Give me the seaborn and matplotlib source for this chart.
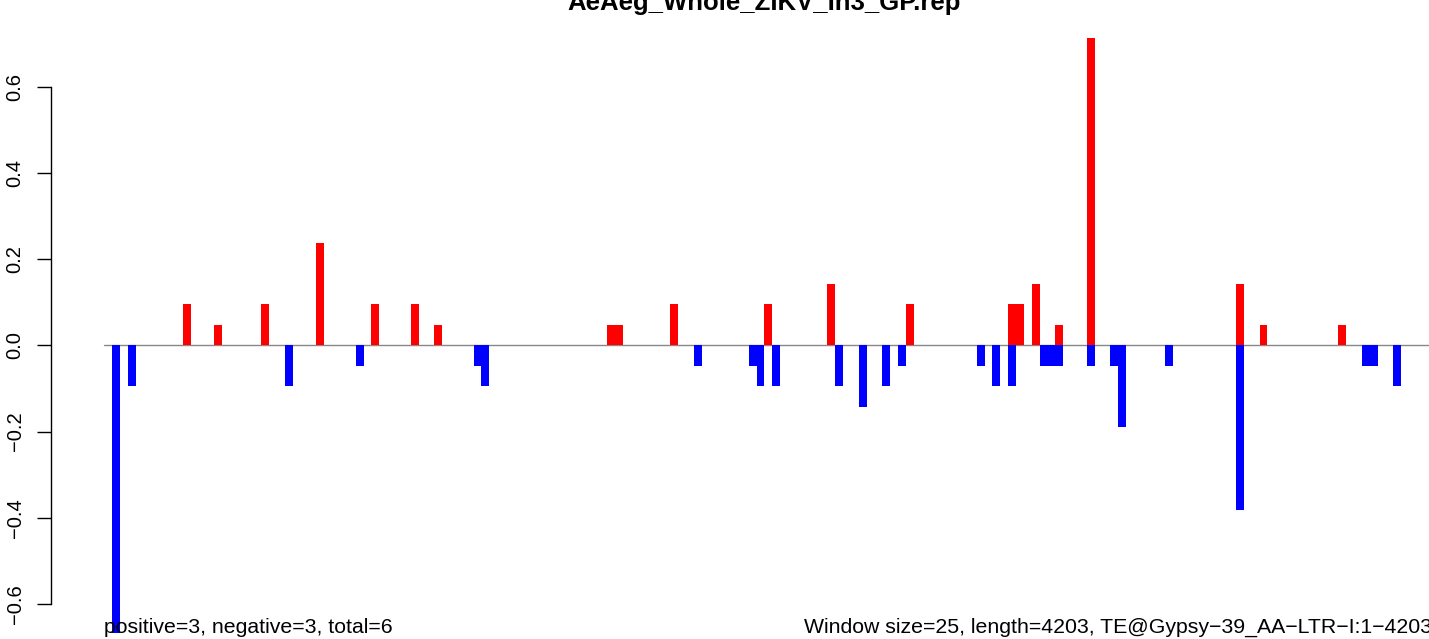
import numpy as np
import pandas as pd
import matplotlib
matplotlib.use("Agg")
import matplotlib.pyplot as plt
import seaborn as sns

title = "AeAeg_Whole_ZIKV_In3_GP.rep"
left_note = "positive=3, negative=3, total=6"
right_note = "Window size=25, length=4203, TE@Gypsy\u221239_AA\u2212LTR\u2212I:1\u22124203"

window = 25
seq_len = 4203
n_bins = int(np.ceil(seq_len / window))  # 169 windows

# window index -> score (red = positive strand, blue = negative strand)
pos_bins = [9, 13, 19, 26, 33, 38, 41, 63, 64, 71, 83, 91, 101, 114, 115,
            117, 120, 124, 143, 146, 156]
pos_vals = [0.095, 0.048, 0.095, 0.238, 0.095, 0.095, 0.048, 0.048, 0.048,
            0.095, 0.095, 0.143, 0.095, 0.095, 0.095, 0.143, 0.048, 0.714,
            0.143, 0.048, 0.048]
neg_bins = [0, 2, 22, 31, 46, 47, 74, 81, 82, 84, 92, 95, 98, 100, 110, 112,
            114, 118, 119, 120, 124, 127, 128, 134, 143, 159, 160, 163]
neg_vals = [-0.667, -0.095, -0.095, -0.048, -0.048, -0.095, -0.048, -0.048,
            -0.095, -0.095, -0.095, -0.143, -0.095, -0.048, -0.048, -0.095,
            -0.095, -0.048, -0.048, -0.048, -0.048, -0.048, -0.190, -0.048,
            -0.381, -0.048, -0.048, -0.095]
y_ticks = [-0.6, -0.4, -0.2, 0.0, 0.2, 0.4, 0.6]
y_ticklabels = ["\u22120.6", "\u22120.4", "\u22120.2", "0.0", "0.2", "0.4", "0.6"]

df = pd.DataFrame({"bin": np.arange(n_bins), "pos": 0.0, "neg": 0.0})
df.loc[pos_bins, "pos"] = pos_vals
df.loc[neg_bins, "neg"] = neg_vals

sns.set_theme(style="white")
plt.rcParams["font.family"] = ["Liberation Sans", "DejaVu Sans"]
plt.rcParams["text.color"] = "black"
plt.rcParams["ytick.color"] = "black"
plt.rcParams["ytick.labelcolor"] = "black"

W, H = 1429, 639
fig = plt.figure(figsize=(W / 100, H / 100), dpi=100)
ax = fig.add_axes([0, 0, 1, 1])
ax.set_facecolor("white")

# pixel layout: bar 0 centred at x=116px, 7.86px per window
px0, step = 116, 7.86
zero_px, px_per_unit = 345.3, 431.0

ax.axhline(0, xmin=104 / W, xmax=1, color="#888888", lw=1.0, zorder=0)
sns.barplot(data=df, x="bin", y="pos", color="red", width=1.0, saturation=1,
            errorbar=None, linewidth=0, ax=ax, zorder=2)
sns.barplot(data=df, x="bin", y="neg", color="blue", width=1.0, saturation=1,
            errorbar=None, linewidth=0, ax=ax, zorder=2)

ax.set_xlim(-px0 / step, (W - px0) / step)
ax.set_ylim(-(H - zero_px) / px_per_unit, zero_px / px_per_unit)
ax.set_xlabel("")
ax.set_ylabel("")
ax.set_xticks([])
ax.grid(False)

for s in ["top", "right", "bottom"]:
    ax.spines[s].set_visible(False)
ax.spines["left"].set_position(("axes", 51 / W))
ax.spines["left"].set_bounds(-0.6, 0.6)
ax.spines["left"].set_color("black")
ax.spines["left"].set_linewidth(1.0)
ax.set_yticks(y_ticks)
ax.set_yticklabels(y_ticklabels, rotation=90, va="center")
ax.tick_params(axis="y", direction="out", length=10, width=1.0, color="black",
               labelcolor="black", pad=9, labelsize=14.5, left=True)

fig.text(764 / W, 1 - 10 / H, title, ha="center", va="baseline",
         fontsize=18.5, fontweight="bold", color="black")
fig.text(104 / W, 1 - 633 / H, left_note, ha="left", va="baseline",
         fontsize=15.3, color="black")
fig.text(1432 / W, 1 - 633 / H, right_note, ha="right", va="baseline",
         fontsize=15.3, color="black")

fig.savefig("out.png", dpi=100, facecolor="white")
